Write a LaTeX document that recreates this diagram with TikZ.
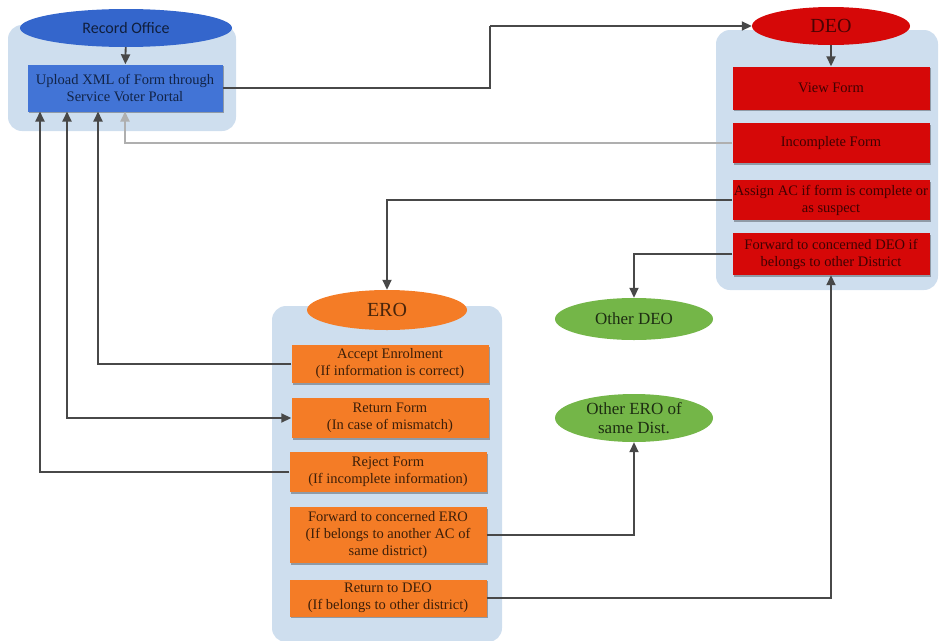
\documentclass[tikz,border=0pt]{standalone}
\usepackage{fontspec}
\setmainfont{Liberation Serif}
\newfontfamily\rofont{Carlito}
\usetikzlibrary{shapes.geometric}
\usetikzlibrary{arrows.meta}
\usetikzlibrary{shadows}
\definecolor{grpblue}{RGB}{206,222,238}
\definecolor{roblue}{RGB}{52,102,204}
\definecolor{upblue}{RGB}{66,116,214}
\definecolor{deored}{RGB}{214,8,8}
\definecolor{eroorange}{RGB}{244,124,38}
\definecolor{othgreen}{RGB}{116,182,72}
\definecolor{linegray}{RGB}{72,72,72}
\definecolor{lightline}{RGB}{175,175,175}

\begin{document}
\begin{tikzpicture}[x=1pt, y=-1pt,
    grp/.style = {rectangle, fill=grpblue, rounded corners=14pt},
    ell/.style = {ellipse, inner sep=0pt, align=center},
    box/.style = {rectangle, minimum width=197, inner sep=1pt, align=center,
      font=\fontsize{14.5}{17}\selectfont,
      general shadow={shadow xshift=1.2pt, shadow yshift=-1.5pt, fill=black, opacity=.3}},
    conn/.style = {draw=linegray, line width=1.8pt, -{Triangle[length=10pt,width=9pt]}}]
  \useasboundingbox (0,0) rectangle (942,640);

  \node[grp, minimum width=228, minimum height=106] (g1) at (122,78) {};
  \node[grp, minimum width=222, minimum height=260] (g2) at (827,160) {};
  \node[grp, minimum width=230, minimum height=336] (g3) at (387,474) {};

  \node[ell, fill=roblue, minimum width=212, minimum height=38, text=roblue!30!black, font=\rofont\fontsize{16}{18}\selectfont] (ro) at (126,28) {Record Office};
  \node[box, fill=upblue, minimum width=195, minimum height=47, text=roblue!35!black] (up) at (125,88) {Upload XML of Form through\\Service Voter Portal};

  \node[ell, fill=deored, minimum width=158, minimum height=38, text=deored!35!black, font=\fontsize{20}{22}\selectfont] (deo) at (831,26) {DEO};
  \node[box, fill=deored, minimum height=43, text=deored!30!black] (view) at (831,88) {View Form};
  \node[box, fill=deored, minimum height=40, text=deored!30!black] (inc) at (831,143) {Incomplete Form};
  \node[box, fill=deored, minimum height=40, text=deored!30!black] (asg) at (831,200) {Assign AC if form is complete or\\as suspect};
  \node[box, fill=deored, minimum height=42, text=deored!30!black] (fwd) at (831,254) {Forward to concerned DEO if\\belongs to other District};

  \node[ell, fill=eroorange, minimum width=160, minimum height=40, text=eroorange!30!black, font=\fontsize{20}{22}\selectfont] (ero) at (387,310) {ERO};
  \node[box, fill=eroorange, minimum height=38, text=eroorange!25!black] (acc) at (390,364) {Accept Enrolment\\(If information is correct)};
  \node[box, fill=eroorange, minimum height=40, text=eroorange!25!black] (ret) at (390,418) {Return Form\\(In case of mismatch)};
  \node[box, fill=eroorange, minimum height=40, text=eroorange!25!black] (rej) at (388,472) {Reject Form\\(If incomplete information)};
  \node[box, fill=eroorange, minimum height=56, text=eroorange!25!black] (fwe) at (388,535) {Forward to concerned ERO\\(If belongs to another AC of\\same district)};
  \node[box, fill=eroorange, minimum height=37, text=eroorange!25!black] (rdeo) at (388,598) {Return to DEO\\(If belongs to other district)};

  \node[ell, fill=othgreen, minimum width=158, minimum height=42, text=othgreen!25!black, font=\fontsize{17}{19}\selectfont] (odeo) at (634,319) {Other DEO};
  \node[ell, fill=othgreen, minimum width=158, minimum height=48, text=othgreen!25!black, font=\fontsize{17}{19}\selectfont] (oero) at (634,418) {Other ERO of\\same Dist.};

  \coordinate (c1) at (490,26);
  \coordinate (u1) at (40,111.5);
  \coordinate (u2) at (67,111.5);
  \coordinate (u3) at (98,111.5);
  \coordinate (u4) at (125,111.5);

  \draw[conn] (ro) -- (up);
  \draw[conn] (deo) -- (view);
  \draw[conn, -] (up.east) -| (c1);
  \draw[conn] (c1) -- (deo.west);
  \draw[conn, draw=lightline] (inc.west) -| (u4);
  \draw[conn] (asg.west) -| (ero.north);
  \draw[conn] (fwd.west) -| (odeo.north);
  \draw[conn] (acc.west) -| (u3);
  \draw[conn, {Triangle[length=10pt,width=9pt]}-{Triangle[length=10pt,width=9pt]}] (u2) |- (ret.west);
  \draw[conn] (rej.west) -| (u1);
  \draw[conn] (fwe.east) -| (oero.south);
  \draw[conn] (rdeo.east) -| (fwd.south);
\end{tikzpicture}
\end{document}
